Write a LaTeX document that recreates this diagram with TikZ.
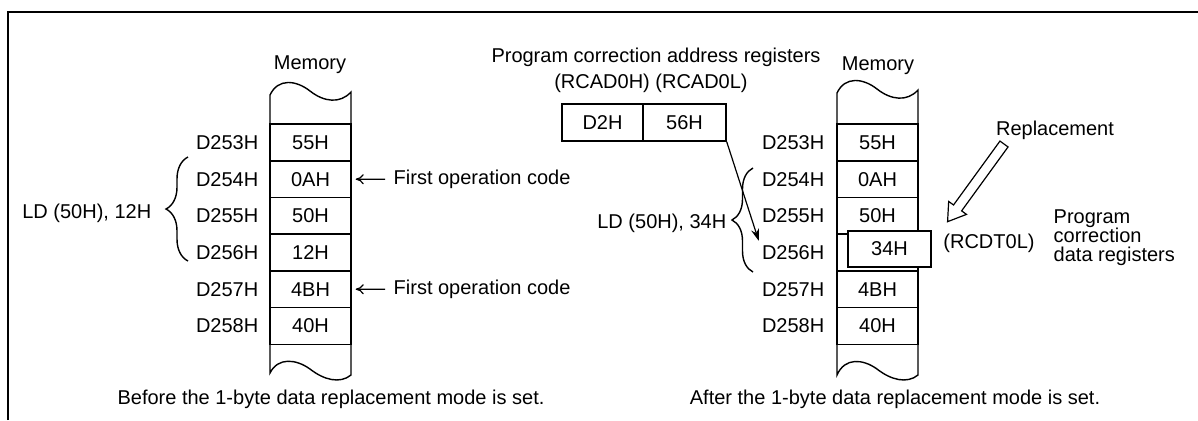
\documentclass[tikz,border=0pt]{standalone}
\usepackage{fontspec}
\setmainfont{Liberation Sans}
\usetikzlibrary{arrows.meta,positioning,calc,decorations.pathreplacing}

\begin{document}
\begin{tikzpicture}[
    x=0.5pt, y=-0.5pt,
    font=\fontsize{10}{9.5}\selectfont,
    line width=0.7pt,
    cell/.style={draw, minimum width=40.5pt, minimum height=18.35pt, inner sep=0pt},
    addr/.style={anchor=east, inner sep=1pt},
    lbl/.style={anchor=base, inner sep=0pt},
    note/.style={inner sep=0pt},
    pointer/.style={-{To[length=4pt,width=5pt]}, line width=0.6pt},
    curly/.style={decorate, decoration={brace, amplitude=#1}},
]
\useasboundingbox (0,0) rectangle (1198,420);
\draw[line width=1.2pt] (8,420) -- (8,12) -- (1198,12);

% memory before
\draw (270,95) .. controls (278,78) and (296,80) .. (310,91) .. controls (324,102) and (340,104) .. (351,92)
  -- (351,375) .. controls (340,384) and (324,380) .. (310,369) .. controls (296,359) and (278,357) .. (270,373) -- cycle;
\foreach \a/\v [count=\i from 0] in {253/55H,254/0AH,255/50H,256/12H,257/4BH,258/40H} {
  \node[cell] (L\a) at (310.5,{142.5+36.67*\i}) {\v};
  \node[addr] (La\a) at (261,{142.5+36.67*\i}) {D\a H};
}
\node[lbl] (memL) at (310,69) {Memory};
\node[note, anchor=west] (op1) at (393,179.2) {First operation code};
\node[note, anchor=west] (op2) at (393,289.2) {First operation code};
\draw[pointer, shorten <=4pt, shorten >=2pt] (op1) -- (L254);
\draw[pointer, shorten <=4pt, shorten >=2pt] (op2) -- (L257);
\draw[curly=11pt] (188,261) -- (188,157);
\node[note, anchor=east] (ldL) at (152,213) {LD (50H), 12H};
\node[lbl] (capL) at (331,404) {Before the 1-byte data replacement mode is set.};

% memory after
\begin{scope}[shift={(567,-2)}]
\draw (270,95) .. controls (278,78) and (296,80) .. (310,91) .. controls (324,102) and (340,104) .. (351,92)
  -- (351,377) .. controls (340,386) and (324,382) .. (310,371) .. controls (296,361) and (278,359) .. (270,377) -- cycle;
\end{scope}
\foreach \a/\v [count=\i from 0] in {253/55H,254/0AH,255/50H,256/,257/4BH,258/40H} {
  \node[cell] (R\a) at (877.5,{142.5+36.67*\i}) {\v};
  \node[addr] (Ra\a) at (827,{142.5+36.67*\i}) {D\a H};
}
\node[cell, fill=white, minimum width=41.5pt, minimum height=18pt] (rcdt) at (889.5,249) {34H};
\node[lbl] (memR) at (878,70) {Memory};
\node[lbl] (capR) at (895,404) {After the 1-byte data replacement mode is set.};

\node[lbl] (pcar) at (656,62) {Program correction address registers};
\node[lbl] (rcad) at (651,88) {(RCAD0H) (RCAD0L)};
\node[cell, minimum height=18.5pt] (regH) at (602.5,122.5) {D2H};
\node[cell, minimum width=41.5pt, minimum height=18.5pt] (regL) at (684.5,122.5) {56H};
\draw[-{Stealth[length=6pt,width=4pt]}, line width=0.6pt, shorten >=1pt] (regL.south east) -- (Ra256.north west);
\draw[curly=10.5pt] (753,272) -- (753,168);
\node[note, anchor=east] (ldR) at (727,223) {LD (50H), 34H};

\node[lbl] (repl) at (1055,135) {Replacement};
\node[note] (rcdtl) at (989,243) {(RCDT0L)};
\node[note, anchor=west, align=left] (pcdr) at (1053,238) {Program\\correction\\data registers};
\begin{scope}[shift={(1004,144)}, rotate=234]
\draw[line width=0.6pt] (0,-5) -- (79,-5) -- (79,-11) -- (96,0) -- (79,11) -- (79,5) -- (0,5) -- cycle;
\end{scope}
\end{tikzpicture}
\end{document}
